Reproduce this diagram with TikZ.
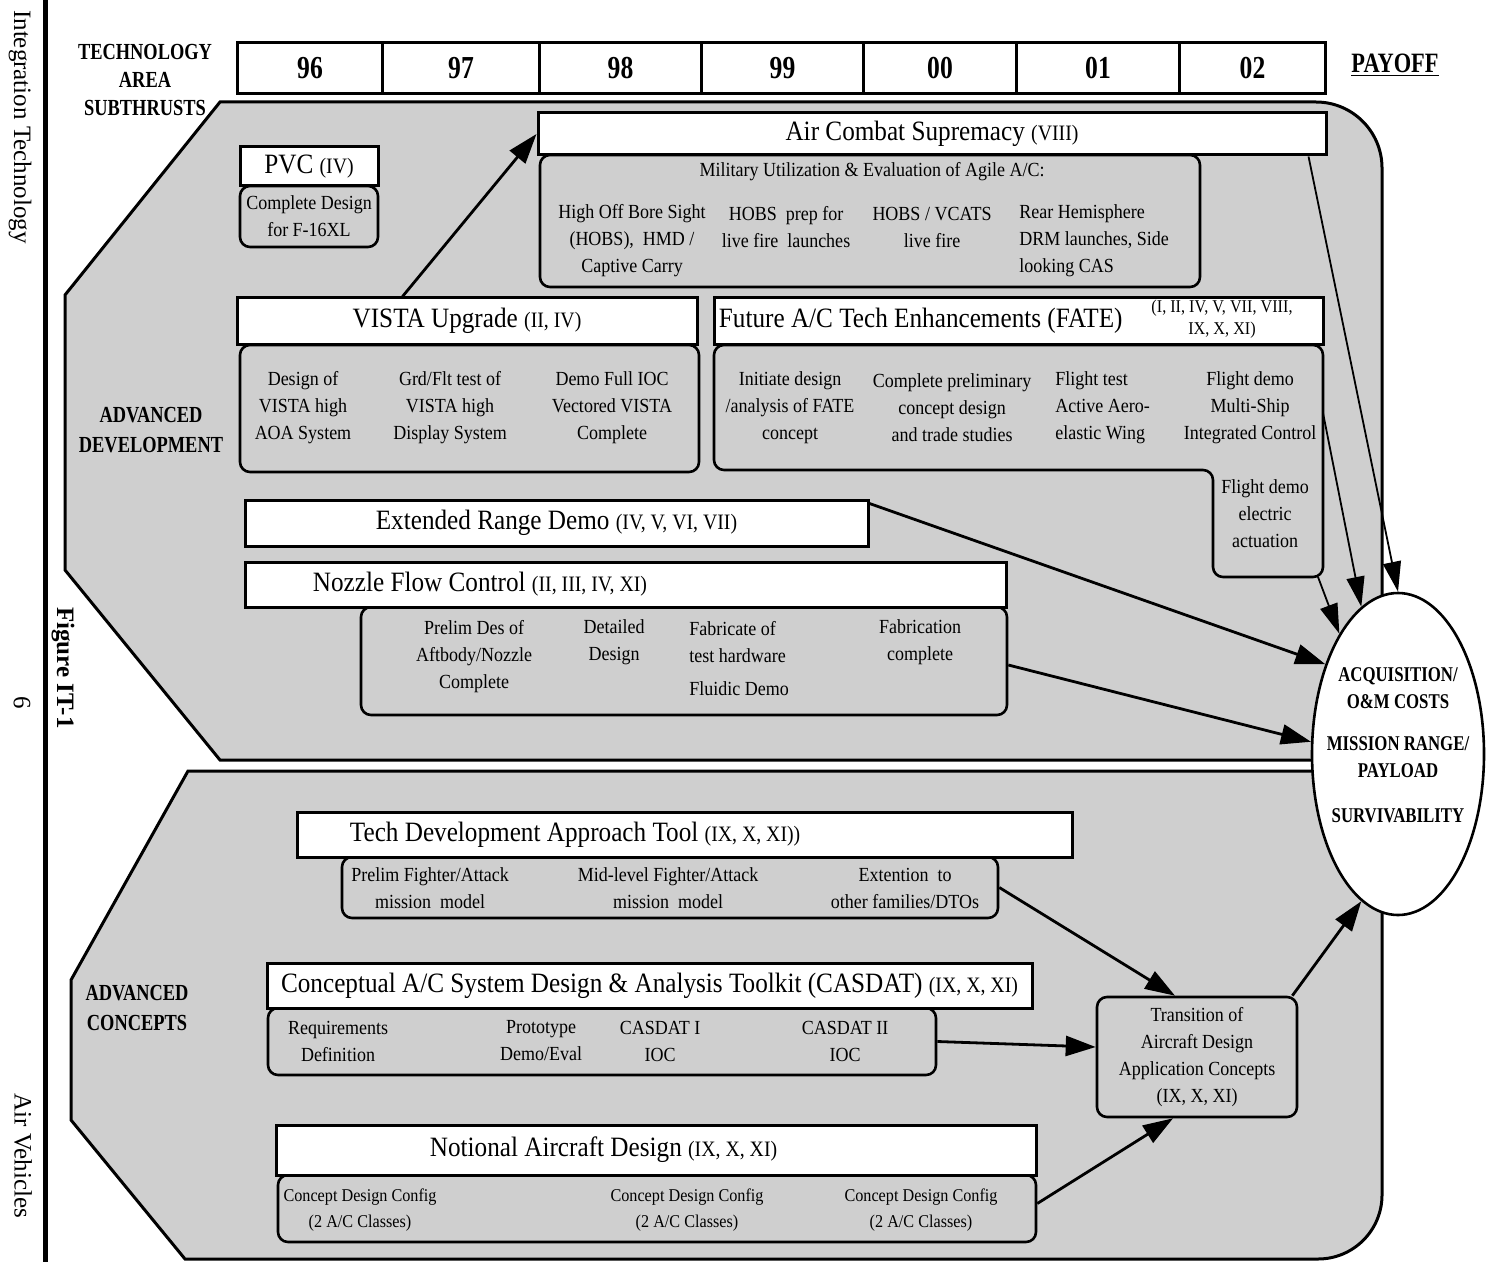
\documentclass[tikz,border=0pt]{standalone}
\usepackage{fontspec}
\setmainfont{Liberation Serif}[FakeStretch=0.9]
\newfontfamily\hdfont{Liberation Serif}[FakeStretch=0.8]
\newfontfamily\sidefont{Liberation Serif}
\usetikzlibrary{arrows.meta,positioning,shapes.geometric,calc}

% roman numeral subthrust list, set smaller than the titles
\newcommand{\thr}[1]{{\fontsize{11}{13}\selectfont(#1)}}

\tikzset{
  panel/.style={draw, line width=1.5pt, fill=black!19},
  titlebox/.style={draw, line width=1.5pt, fill=white, inner sep=0pt, font=\fontsize{14}{16}\selectfont},
  titletext/.style={inner sep=0pt, font=\fontsize{14}{16}\selectfont},
  subbox/.style={draw, line width=1.3pt, fill=black!19, rounded corners=5pt, inner sep=0pt},
  cell/.style={inner sep=0pt, align=center, font=\fontsize{10}{13.5}\selectfont},
  hdtext/.style={inner sep=0pt, align=center, font=\hdfont\bfseries\fontsize{11.5}{14}\selectfont},
  yearcell/.style={draw, line width=1.5pt, fill=white, inner sep=0pt, anchor=north west,
    minimum height=25.5pt, font=\hdfont\bfseries\fontsize{16}{18}\selectfont},
  sidetext/.style={inner sep=0pt, rotate=-90, font=\sidefont\fontsize{12.5}{15}\selectfont},
  arr/.style={-{Triangle[length=15pt,width=10pt]}, line width=1.4pt},
  thinarr/.style={-{Triangle[length=15pt,width=9pt]}, line width=0.9pt}
}

\begin{document}
\begin{tikzpicture}[x=0.5pt, y=-0.5pt]
\useasboundingbox (0,0) rectangle (1486,1262);

% Side margin: rule and rotated captions
\draw[line width=2.5pt] (45,0) -- (45,1262);
\node[sidetext] (sideTop) at (20,127) {Integration Technology};
\node[sidetext] (sideBot) at (23,1156) {Air Vehicles};
\node[sidetext, font=\sidefont\bfseries\fontsize{12.5}{14}\selectfont] (figNo) at (63,668) {Figure IT-1};
\node[sidetext] (pageNo) at (22,703) {6};

% Header row
\node[hdtext] (techArea) at (145,80) {TECHNOLOGY\\AREA\\SUBTHRUSTS};
\foreach \yr/\xa/\xb in {96/236/381, 97/381/538, 98/538/700, 99/700/862, 00/862/1015, 01/1015/1178, 02/1178/1324}
  \node[yearcell, minimum width={(\xb-\xa)*0.5pt}] (yr\yr) at (\xa,41) {\yr};
\node[hdtext, font=\hdfont\bfseries\fontsize{14}{16}\selectfont] (payoffHd) at (1395,65) {\underline{PAYOFF}};

% Advanced development panel
\draw[panel] (220,102) -- (1316,102) arc[start angle=90, end angle=0, radius=33pt]
  -- (1382,760) -- (220,760) -- (65,570) -- (65,295) -- cycle;

% Advanced concepts panel
\draw[panel] (188,771) -- (1382,771) -- (1382,1195) arc[start angle=0, end angle=-90, radius=32pt]
  -- (185,1259) -- (71,1120) -- (71,980) -- cycle;

\node[hdtext] (advDev) at (151,430) {ADVANCED\\[1pt]DEVELOPMENT};
\node[hdtext] (advCon) at (137,1008) {ADVANCED\\[1pt]CONCEPTS};

% PVC
\node[subbox, cell, minimum width=69pt, minimum height=30.5pt] (pvcS) at (309,216.5) {Complete Design\\for F-16XL};
\node[titlebox, minimum width=69pt, minimum height=19.5pt] (pvcT) at (309,166.5) {PVC \thr{IV}};

% Air Combat Supremacy
\node[subbox, minimum width=330pt, minimum height=66pt] (acsS) at (870,221) {};
\node[titlebox, minimum width=394pt, minimum height=21pt] (acsT) at (932,134) {Air Combat Supremacy \thr{VIII}};
\node[cell] (acsHead) at (872,172) {Military Utilization \& Evaluation of Agile A/C:};
\node[cell] (acs1) at (632,241) {High Off Bore Sight\\(HOBS), \ HMD /\\Captive Carry};
\node[cell] (acs2) at (786,227) {HOBS \ prep for\\live fire \ launches};
\node[cell] (acs3) at (932,227) {HOBS / VCATS\\live fire};
\node[cell, anchor=west, align=left] (acs4) at (1019,241) {Rear Hemisphere\\DRM launches, Side\\looking CAS};

% VISTA Upgrade
\node[subbox, minimum width=229.5pt, minimum height=63.5pt] (vistaS) at (469.5,408.5) {};
\node[titlebox, minimum width=230pt, minimum height=23pt] (vistaT) at (467,321) {VISTA Upgrade \thr{II, IV}};
\node[cell] (vista1) at (303,408) {Design of\\VISTA high\\AOA System};
\node[cell] (vista2) at (450,408) {Grd/Flt test of\\VISTA high\\Display System};
\node[cell] (vista3) at (612,408) {Demo Full IOC\\Vectored VISTA\\Complete};

% FATE
\draw[subbox] (714,345) -- (1323,345) -- (1323,577) -- (1213,577) -- (1213,470) -- (714,470) -- cycle;
\node[titlebox, minimum width=304.5pt, minimum height=23pt] (fateT) at (1018.5,321) {};
\node[titletext, right=3pt of fateT.west] (fateTx) {Future A/C Tech Enhancements (FATE)};
\node[cell, font=\fontsize{9}{11}\selectfont] (fateNum) at (1222,319) {(I, II, IV, V, VII, VIII,\\IX, X, XI)};
\node[cell] (fate1) at (790,408) {Initiate design\\/analysis of FATE\\concept};
\node[cell] (fate2) at (952,408) {Complete preliminary\\concept design\\and trade studies};
\node[cell, anchor=west, align=left] (fate3) at (1055,408) {Flight test\\Active Aero-\\elastic Wing};
\node[cell] (fate4) at (1250,408) {Flight demo\\Multi-Ship\\Integrated Control};
\node[cell] (fate5) at (1265,514) {Flight demo\\electric\\actuation};
\coordinate (fateR) at (1323,413);
\coordinate (fateB) at (1318,577);

% Extended Range Demo
\node[titlebox, minimum width=311.5pt, minimum height=23pt] (erdT) at (556.5,523) {Extended Range Demo \thr{IV, V, VI, VII}};

% Nozzle Flow Control
\node[subbox, minimum width=323pt, minimum height=54pt] (nfcS) at (684,661) {};
\node[titlebox, minimum width=380.5pt, minimum height=22.5pt] (nfcT) at (625.5,584.5) {};
\node[titletext, right=34.5pt of nfcT.west] (nfcTx) {Nozzle Flow Control \thr{II, III, IV, XI}};
\node[cell] (nfc1) at (474,657) {Prelim Des of\\Aftbody/Nozzle\\Complete};
\node[cell] (nfc2) at (614,642.5) {Detailed\\Design};
\node[cell, anchor=west, align=left] (nfc3) at (689,659) {Fabricate of\\test hardware\\[3pt]Fluidic Demo};
\node[cell] (nfc4) at (920,642.5) {Fabrication\\complete};

% Tech Development Approach Tool
\node[subbox, minimum width=328pt, minimum height=30.5pt] (tdaS) at (670,887.5) {};
\node[titlebox, minimum width=387.5pt, minimum height=22.5pt] (tdaT) at (684.5,834.5) {};
\node[titletext, right=27pt of tdaT.west] (tdaTx) {Tech Development Approach Tool \thr{IX, X, XI)}};
\node[cell] (tda1) at (430,888) {Prelim Fighter/Attack\\mission \ model};
\node[cell] (tda2) at (668,888) {Mid-level Fighter/Attack\\mission \ model};
\node[cell] (tda3) at (905,888) {Extention \ to\\other families/DTOs};

% CASDAT
\node[subbox, minimum width=334pt, minimum height=33.5pt] (casS) at (602,1041.5) {};
\node[titlebox, minimum width=382.5pt, minimum height=22.5pt] (casT) at (649.5,985.5) {Conceptual A/C System Design \& Analysis Toolkit (CASDAT) \thr{IX, X, XI}};
\node[cell] (cas1) at (338,1041) {Requirements\\Definition};
\node[cell] (cas2) at (541,1041) {Prototype\\Demo/Eval};
\node[cell] (cas3) at (660,1041) {CASDAT I\\IOC};
\node[cell] (cas4) at (845,1041) {CASDAT II\\IOC};

% Notional Aircraft Design
\node[subbox, minimum width=379pt, minimum height=33.5pt] (nadS) at (657,1208.5) {};
\node[titlebox, minimum width=380pt, minimum height=25pt] (nadT) at (656,1150) {};
\node[titletext, right=77.5pt of nadT.west] (nadTx) {Notional Aircraft Design \thr{IX, X, XI}};
\foreach \cx [count=\i] in {360,687,921}
  \node[cell, font=\fontsize{9}{13}\selectfont] (nad\i) at (\cx,1210) {Concept Design Config\\(2 A/C Classes)};

% Transition box
\node[subbox, cell, minimum width=100pt, minimum height=60pt] (trans) at (1197,1057) {Transition of\\Aircraft Design\\Application Concepts\\(IX, X, XI)};

% Payoff ellipse
\node[draw, ellipse, line width=1.3pt, fill=white, minimum width=86pt, minimum height=161pt, inner sep=0pt] (payoff) at (1398,754) {};
\node[hdtext, font=\hdfont\bfseries\fontsize{10.5}{13.5}\selectfont] (payoffTx) at (1398,745)
  {ACQUISITION/\\O\&M COSTS\\[7.5pt]MISSION RANGE/\\PAYLOAD\\[9pt]SURVIVABILITY};

% Arrows
\draw[arr] ([xshift=83.5pt]vistaT.north west) -- (acsT.west);
\draw[thinarr] ([xshift=-9.5pt]acsT.south east) -- (payoff.north);
\draw[thinarr] (fateR) -- (payoff.104);
\draw[thinarr] (fateB) -- (payoff.116);
\draw[arr] ([yshift=-2.5pt]erdT.north east) -- (payoff.129);
\draw[arr] ([yshift=-2pt]nfcS.east) -- (payoff.172);
\draw[arr] (tdaS.east) -- ([xshift=-11pt]trans.north);
\draw[arr] (casS.east) -- ([yshift=5pt]trans.west);
\draw[arr] ([yshift=2.5pt]nadS.east) -- ([xshift=-12pt]trans.south);
\draw[arr] ([xshift=-3pt]trans.north east) -- (payoff.256);
\end{tikzpicture}
\end{document}
